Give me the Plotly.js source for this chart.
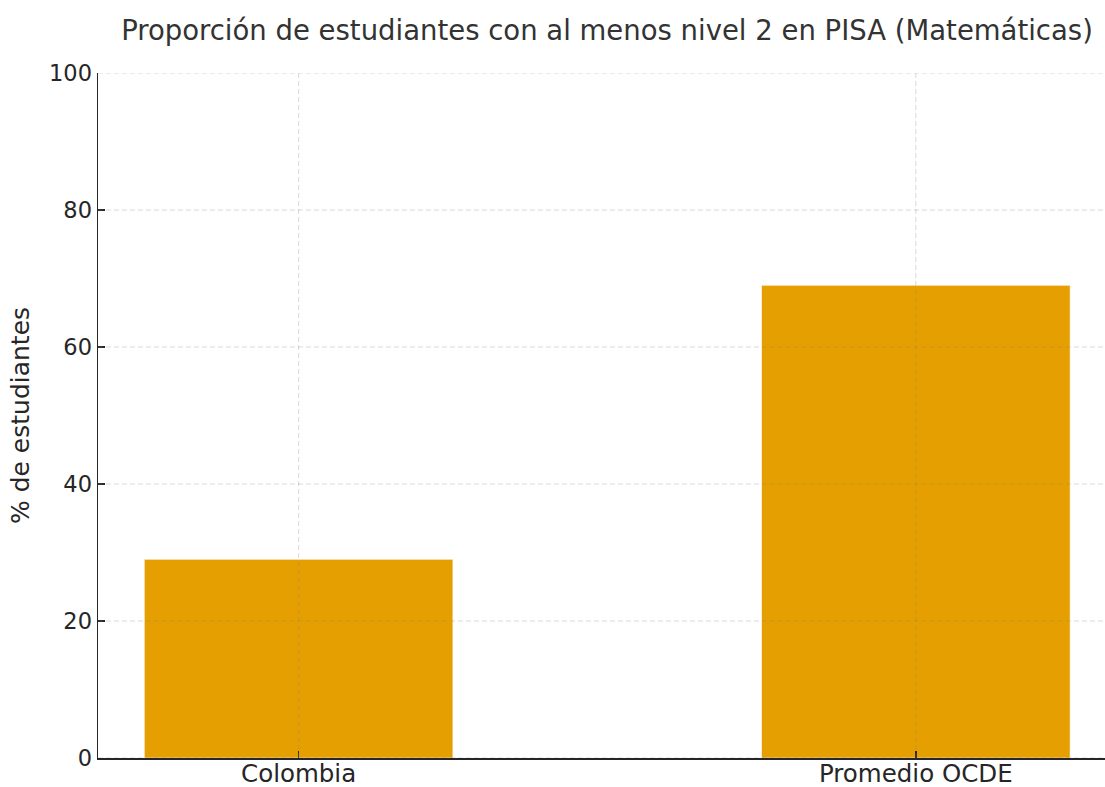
<!DOCTYPE html>
<html>
<head>
<meta charset="utf-8">
<script src="https://cdn.plot.ly/plotly-3.0.1.min.js"></script>
<style>html,body{margin:0;padding:0;background:#fff;}#chart{width:1105px;height:787px;}</style>
</head>
<body>
<div id="chart"></div>
<script>
const categories = ["Colombia", "Promedio OCDE"];
const values = [29, 69];
const yTicks = [0, 20, 40, 60, 80, 100];
const titleText = "Proporción de estudiantes con al menos nivel 2 en PISA (Matemáticas)";
const yTitle = "% de estudiantes";

const FONT = "'DejaVu Sans', sans-serif";
const gridColor = "rgba(128,128,128,0.3)";
const shapes = [];
yTicks.forEach(v => shapes.push({type:"line", xref:"paper", yref:"y", x0:0, x1:1, y0:v, y1:v,
  layer:"above", line:{color:gridColor, width:1, dash:"5px,3px"}}));
categories.forEach(c => shapes.push({type:"line", xref:"x", yref:"paper", x0:c, x1:c, y0:0, y1:1,
  layer:"above", line:{color:gridColor, width:1, dash:"5px,3px"}}));

const trace = {
  type:"bar", x:categories, y:values, width:0.5,
  marker:{color:"#E69F00", line:{color:"rgba(255,255,255,0.6)", width:1}},
  hoverinfo:"x+y"
};

const layout = {
  width:1105, height:787,
  margin:{l:98, r:0, t:73, b:29},
  paper_bgcolor:"#fff", plot_bgcolor:"#fff",
  font:{family:FONT, color:"#262626", size:21},
  title:{text:titleText, font:{size:27.5, color:"#333333", family:FONT},
    xref:"paper", x:0.5055, xanchor:"center", yref:"container", y:0.962, yanchor:"middle"},
  xaxis:{type:"category", range:[-0.325, 1.3065], showgrid:false, zeroline:false,
    showline:true, linecolor:"#262626", linewidth:1.5,
    ticks:"inside", ticklen:7, tickwidth:1.5, tickcolor:"#262626",
    tickfont:{size:24.5, color:"#262626", family:FONT}, ticklabelstandoff:-7, fixedrange:true},
  yaxis:{range:[0,100], tickvals:yTicks, showgrid:false, zeroline:false,
    showline:true, linecolor:"#262626", linewidth:1.5,
    ticks:"inside", ticklen:7, tickwidth:1.5, tickcolor:"#262626",
    tickfont:{size:22.5, color:"#262626", family:FONT}, ticklabelstandoff:0,
    title:{text:yTitle, font:{size:25, color:"#262626", family:FONT}, standoff:12}, fixedrange:true},
  shapes:shapes,
  showlegend:false, bargap:0
};

Plotly.newPlot("chart", [trace], layout, {displayModeBar:false, staticPlot:true});
</script>
</body>
</html>
